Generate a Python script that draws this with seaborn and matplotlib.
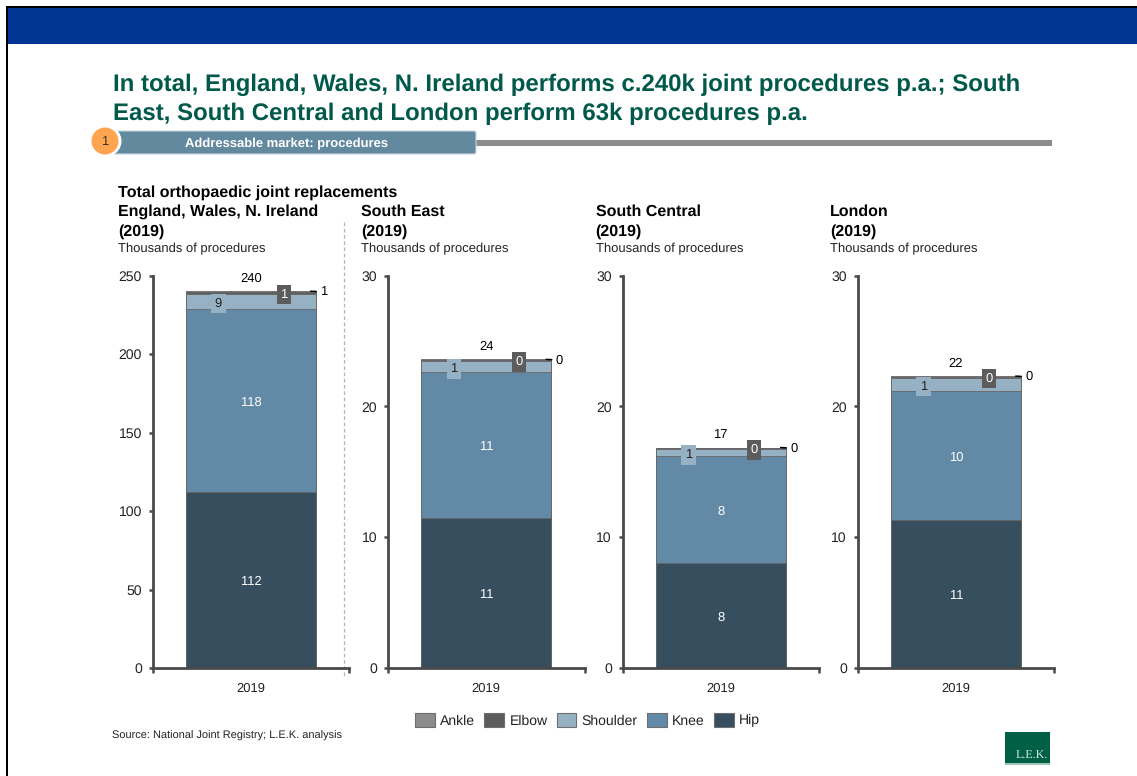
import matplotlib
matplotlib.use("Agg")
import matplotlib.pyplot as plt
from matplotlib.patches import Patch, Rectangle, Circle, FancyBboxPatch
import pandas as pd
import seaborn as sns

years = ["2019"]
regions = ["England, Wales, N. Ireland", "South East", "South Central", "London"]
y_max = [250, 30, 30, 30]
y_ticks = [[0, 50, 100, 150, 200, 250], [0, 10, 20, 30], [0, 10, 20, 30], [0, 10, 20, 30]]
joints = ["Ankle", "Elbow", "Shoulder", "Knee", "Hip"]
hip = [112, 11.45, 8.0, 11.3]
knee = [116.5, 11.15, 8.17, 9.85]
shoulder = [9.6, 0.84, 0.55, 1.0]
elbow = [1.3, 0.12, 0.1, 0.13]
ankle = [0.6, 0.03, 0.03, 0.03]
hip_labels = ["112", "11", "8", "11"]
knee_labels = ["118", "11", "8", "10"]
shoulder_labels = ["9", "1", "1", "1"]
elbow_labels = ["1", "0", "0", "0"]
ankle_labels = ["1", "0", "0", "0"]
total_labels = ["240", "24", "17", "22"]

title_lines = ["In total, England, Wales, N. Ireland performs c.240k joint procedures p.a.; South",
               "East, South Central and London perform 63k procedures p.a."]
banner_text = "Addressable market: procedures"
chart_title = "Total orthopaedic joint replacements"
period = "(2019)"
unit = "Thousands of procedures"
source = "Source: National Joint Registry; L.E.K. analysis"

colors = {"Ankle": "#8C8C8C", "Elbow": "#5C5C5C", "Shoulder": "#97B1C4",
          "Knee": "#6289A5", "Hip": "#374E5E"}
AX = "#4A4A4A"

sns.set_theme(style="white")
plt.rcParams["font.family"] = ["Liberation Sans", "DejaVu Sans"]
plt.rcParams["text.hinting"] = "no_hinting"
plt.rcParams["text.hinting_factor"] = 1
W, H = 1137, 776
fig = plt.figure(figsize=(W / 100, H / 100), dpi=100, facecolor="white")

# pixel-space overlay for the slide furniture
bg = fig.add_axes([0, 0, 1, 1], zorder=0)
bg.set_xlim(0, W); bg.set_ylim(H, 0); bg.axis("off")
bg.add_patch(Rectangle((6, 6), W, 2, color="black", lw=0))
bg.add_patch(Rectangle((6, 6), 2, H, color="black", lw=0))
bg.add_patch(Rectangle((8, 8), W, 36, color="#003594", lw=0))
for i, line in enumerate(title_lines):
    bg.text(113, 84.5 + i * 29, line, color="#00594A", fontsize=17.4, fontweight="bold", va="center", ha="left")
bg.add_patch(Rectangle((470, 140), 582, 6, color="#8C8C8C", lw=0))
bg.add_patch(FancyBboxPatch((112, 131), 364, 23, boxstyle="round,pad=0,rounding_size=2",
                            fc="#63899F", ec="#C9D6DF", lw=0.8))
bg.add_patch(Circle((106, 141), 15.5, fc="white", ec="none", zorder=3))
bg.add_patch(Circle((105, 141), 13.5, fc="#FFA54F", ec="none", zorder=4))
bg.text(105, 141.5, "1", color="#333333", fontsize=9, ha="center", va="center", zorder=5)
bg.text(287, 143.5, banner_text, color="white", fontsize=9.5, fontweight="bold", ha="center", va="center")
bg.text(118.5, 192.5, chart_title, color="black", fontsize=11.6, fontweight="bold", va="center")
bg.plot([344, 344], [222, 677], color="#B5B5B5", lw=0.9, ls=(0, (3, 2)))
head_x = [118.5, 361, 595.5, 830]
for x, r in zip(head_x, regions):
    bg.text(x, 211.5, r, color="black", fontsize=11.6, fontweight="bold", va="center")
    bg.text(x, 231.5, period, color="black", fontsize=11.6, fontweight="bold", va="center")
    bg.text(x, 249, unit, color="#222222", fontsize=9.6, va="center")
bg.text(112.5, 735.5, source, color="#222222", fontsize=7.75, va="center")
bg.add_patch(Rectangle((1005, 732), 45, 31, color="#006045", lw=0))
bg.add_patch(Rectangle((1005, 763), 45, 1.5, color="#9FC5B8", lw=0))
bg.text(1032, 755.5, "L.E.K.", color="#D5E5DF", fontsize=8.8, family="Liberation Serif", ha="center", va="center")

lefts = [152.5, 388, 622.5, 857.5]
width_px = 196.5
top, bottom = 275.5, 668
layers = [("Ankle", ankle), ("Elbow", elbow), ("Shoulder", shoulder), ("Knee", knee), ("Hip", hip)]

for i in range(4):
    ax = fig.add_axes([lefts[i] / W, 1 - bottom / H, width_px / W, (bottom - top) / H], zorder=2)
    ax.patch.set_alpha(0)
    # cumulative heights, drawn tallest first so the layers read as a stack
    running = sum(v[i] for _, v in layers)
    tops = {}
    for name, vals in layers:
        df = pd.DataFrame({"year": years, "value": [running]})
        sns.barplot(data=df, x="year", y="value", color=colors[name], saturation=1, width=0.66,
                    edgecolor="#666666", linewidth=0.6, ax=ax, zorder=2)
        tops[name] = running
        running -= vals[i]
    ax.set_xlim(-0.5, 0.5)
    ax.set_ylim(0, y_max[i])
    ax.set_xlabel(""); ax.set_ylabel("")
    ax.set_yticks(y_ticks[i])
    ax.set_xticks([0]); ax.set_xticks([-0.5, 0.5], minor=True)
    ax.tick_params(axis="x", which="major", length=0, pad=10.5, labelsize=9.6, labelcolor="#222222")
    ax.tick_params(axis="x", which="minor", length=3.5, width=1.8, color=AX, bottom=True)
    ax.tick_params(axis="y", length=3, width=1.8, color=AX, labelsize=10, labelcolor="#222222", pad=4.7, left=True)
    sns.despine(ax=ax)
    for s in ("left", "bottom"):
        ax.spines[s].set_color(AX); ax.spines[s].set_linewidth(2)
        ax.spines[s].set_zorder(5)

    mid = lambda name, v: tops[name] - v[i] / 2
    for lab, name, v in ((hip_labels, "Hip", hip), (knee_labels, "Knee", knee)):
        ax.annotate(lab[i], (0, mid(name, v)), xytext=(0, -1), textcoords="offset points",
                    color="white", fontsize=9.6, ha="center", va="center", zorder=6)
    ax.annotate(total_labels[i], (0, tops["Ankle"]), xytext=(0, 9), textcoords="offset points",
                fontsize=9.6, color="black", ha="center", va="center", zorder=6)
    ax.annotate(shoulder_labels[i], (-0.165, mid("Shoulder", shoulder)), xytext=(0, -1.5), textcoords="offset points",
                fontsize=9.6, color="#222222", ha="center", va="center", zorder=7,
                bbox=dict(boxstyle="square,pad=0.27", fc=colors["Shoulder"], ec="none"))
    ax.annotate(elbow_labels[i], (0.168, mid("Elbow", elbow)), xytext=(0, -1), textcoords="offset points",
                fontsize=9.6, color="white", ha="center", va="center", zorder=7,
                bbox=dict(boxstyle="square,pad=0.27", fc=colors["Elbow"], ec="none"))
    ax.annotate(ankle_labels[i], (0.305, tops["Ankle"]), xytext=(9.5, -0.5), textcoords="offset points",
                fontsize=9.6, color="black", ha="center", va="center", zorder=7,
                arrowprops=dict(arrowstyle="-", color="black", lw=1.1, shrinkA=0.5, shrinkB=0))

handles = [Patch(facecolor=colors[j], edgecolor="#6E6E6E", linewidth=0.8, label=j) for j in joints]
fig.legend(handles=handles, ncols=5, loc="center", bbox_to_anchor=(587.5 / W, 1 - 720 / H), frameon=False,
           fontsize=10, handlelength=1.42, handleheight=1.2, handletextpad=0.4, columnspacing=0.65,
           labelcolor="#222222", borderpad=0)
fig.savefig("out.png", dpi=100, facecolor="white")
